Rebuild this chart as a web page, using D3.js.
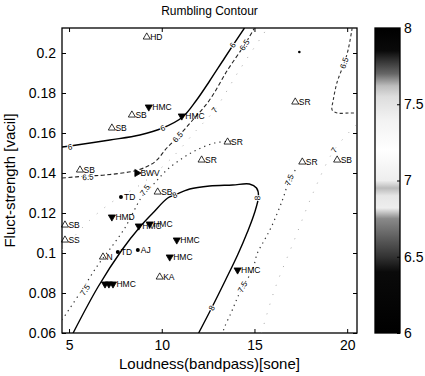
<!DOCTYPE html>
<html><head><meta charset="utf-8">
<script src="https://cdn.jsdelivr.net/npm/d3@7"></script>
<style>
body{margin:0;background:#fff}
svg{display:block}
text{font-family:"Liberation Sans",Arial,Helvetica,sans-serif;fill:#000}
</style>
</head><body>
<svg id="chart" width="425" height="376"></svg>
<script>
// ---------- data ----------
const titleText = "Rumbling Contour";
const xLabelText = "Loudness(bandpass)[sone]";
const yLabelText = "Fluct-strength [vacil]";
const xTicks = [5, 10, 15, 20];
const yTicks = [0.06, 0.08, 0.1, 0.12, 0.14, 0.16, 0.18, 0.2];
const yTickLabels = ["0.06", "0.08", "0.1", "0.12", "0.14", "0.16", "0.18", "0.2"];
const cbTicks = [6, 6.5, 7, 7.5, 8];
const cbTickLabels = ["6", "6.5", "7", "7.5", "8"];

// contour lines [loudness, fluct-strength]
const level6Line = [[4.62,0.153],[5.05,0.1535],[7.2,0.1565],[8.82,0.159],[10.05,0.1625],[11.13,0.168],[11.88,0.1765],[12.58,0.186],[13.39,0.1975],[14.46,0.2125]];
const level65LineLeft = [[4.62,0.1375],[6.02,0.1385],[6.94,0.139],[8.71,0.1415],[9.62,0.1455],[10.27,0.1525],[10.86,0.158],[11.67,0.1665],[12.58,0.1765],[13.55,0.1915],[14.46,0.204],[15.0,0.2125]];
const level7LineLeft = [[4.62,0.1015],[6.13,0.1165],[7.47,0.1265],[8.82,0.134],[10.43,0.1465],[11.88,0.1615],[12.85,0.1715],[14.19,0.1915],[15.7,0.2125]];
const level75LineLeft = [[4.62,0.0665],[5.59,0.08],[6.56,0.094],[7.37,0.104],[8.01,0.1125],[8.44,0.12],[8.92,0.128],[9.62,0.135],[10.27,0.1415],[11.13,0.1475],[11.88,0.1515],[12.85,0.155],[13.92,0.156]];
const level8Line = [[5.22,0.06],[6.56,0.083],[7.85,0.1015],[8.82,0.113],[9.52,0.12],[10.32,0.1275],[10.7,0.129],[11.51,0.132],[12.58,0.1335],[13.82,0.134],[14.73,0.1345],[15.11,0.1325],[15.22,0.1285],[15.0,0.12],[14.62,0.1105],[14.09,0.099],[13.44,0.0865],[12.69,0.0725],[11.99,0.06]];
const level75LineRight = [[17.2,0.1415],[16.88,0.1365],[16.51,0.1265],[15.91,0.113],[15.54,0.1065],[15.16,0.1],[14.89,0.0915],[14.35,0.083],[14.03,0.0765],[13.76,0.0705],[13.39,0.063],[13.28,0.06]];
const level7LineRight = [[20.48,0.164],[19.3,0.1515],[18.23,0.1315],[17.15,0.1065],[16.08,0.0815],[15.38,0.06]];
const level65LineCorner = [[20.27,0.2125],[20.05,0.2015],[19.84,0.195],[19.46,0.1855],[19.25,0.1765],[19.19,0.1715],[19.46,0.17],[20.11,0.17],[20.48,0.17]];

// contour labels: text, line id, position
const contourLabelText = ["6","6","6","6.5","6.5","6.5","8","8","8","7.5","7.5","7.5","7.5","6.5","7","7"];
const contourLabelLine = ["l6","l6","l6","l65L","l65L","l65L","l8","l8","l8","l75L","l75L","l75R","l75R","l65C","l7L","l7R"];
const contourLabelX = [5.05,10.05,13.82,6.02,10.86,14.46,10.7,15.16,12.69,5.86,9.09,16.88,14.35,19.84,12.85,19.3];
const contourLabelY = [0.153,0.1625,0.204,0.138,0.158,0.204,0.129,0.1275,0.0725,0.0815,0.1315,0.1365,0.083,0.195,0.1715,0.1515];

// marker groups: open up-triangles
const upTriNames = ["HD","SB","SB","SB","SB","SB","SS","N","SR","SR","SR","SR","SB","KA"];
const upTriX = [9.19,7.31,8.39,5.59,9.78,4.78,4.78,6.83,13.55,12.15,17.2,17.58,19.46,9.89];
const upTriY = [0.208,0.1625,0.169,0.1415,0.1305,0.114,0.1065,0.098,0.1555,0.1465,0.1755,0.1455,0.1465,0.088];
// filled down-triangles
const downTriNames = ["HMC","HMC","HMD","HMC","HMC","HMC","HMC","HMC","","","HMC"];
const downTriX = [9.3,11.08,7.31,8.76,9.35,10.81,10.43,14.09,6.94,7.15,7.37];
const downTriY = [0.173,0.1685,0.118,0.1135,0.1145,0.1065,0.098,0.0915,0.0845,0.0845,0.0845];
// filled dots
const dotNames = ["TD","TD","AJ",""];
const dotX = [7.8,7.63,8.71,17.42];
const dotY = [0.128,0.1005,0.1015,0.2005];
// filled right-triangles
const rightTriNames = ["BWV"];
const rightTriX = [8.66];
const rightTriY = [0.14];

// colormap stops (value, gray)
const cmapValues = [6.0,6.4,6.5,6.6,6.75,6.82,6.9,6.95,7.0,7.2,7.4,7.55,7.62,7.7,7.8,7.85,8.0];
const cmapGrays  = ["#000","#0a0a0a","#333","#555","#8a8a8a","#eeeeee","#e6e6e6","#bbbbbb","#eeeeee","#ffffff","#f2f2f2","#dddddd","#bdbdbd","#666","#2a2a2a","#0a0a0a","#000"];

// ---------- layout ----------
const svg = d3.select("#chart");
const L = 62, R = 357, T = 28, B = 333;
const x = d3.scaleLinear().domain([4.62, 20.53]).range([L, R]);
const y = d3.scaleLinear().domain([0.06, 0.2125]).range([B, T]);
const cbX0 = 375, cbX1 = 400;
const cbY = d3.scaleLinear().domain([6, 8]).range([B, T]);

const defs = svg.append("defs");
defs.append("clipPath").attr("id","plotclip").append("rect")
  .attr("x",L).attr("y",T).attr("width",R-L).attr("height",B-T);

// title
svg.append("text").attr("x",(L+R)/2).attr("y",15).attr("text-anchor","middle")
  .attr("font-size",12).text(titleText);

// axes
const gx = svg.append("g").attr("transform",`translate(0,${B})`)
  .call(d3.axisBottom(x).tickValues(xTicks).tickSizeInner(-4).tickSizeOuter(0).tickPadding(7).tickFormat(d3.format("d")));
gx.selectAll("text").attr("font-size",14);
const gy = svg.append("g").attr("transform",`translate(${L},0)`)
  .call(d3.axisLeft(y).tickValues(yTicks).tickSizeInner(-4).tickSizeOuter(0).tickPadding(6).tickFormat((d,i)=>yTickLabels[i]));
gy.selectAll("text").attr("font-size",14);
// mirrored ticks
svg.append("g").attr("transform",`translate(0,${T})`)
  .call(d3.axisTop(x).tickValues(xTicks).tickSizeInner(-4).tickSizeOuter(0).tickFormat(""));
svg.append("g").attr("transform",`translate(${R},0)`)
  .call(d3.axisRight(y).tickValues(yTicks).tickSizeInner(-4).tickSizeOuter(0).tickFormat(""));
svg.selectAll(".domain").remove();
svg.selectAll(".tick line").attr("stroke","#000").attr("stroke-width",1);
svg.append("rect").attr("x",L).attr("y",T).attr("width",R-L).attr("height",B-T)
  .attr("fill","none").attr("stroke","#000").attr("stroke-width",1.3);

svg.append("text").attr("x",(L+R)/2).attr("y",369).attr("text-anchor","middle")
  .attr("font-size",15).text(xLabelText);
svg.append("text").attr("transform",`translate(15,${(T+B)/2}) rotate(-90)`)
  .attr("text-anchor","middle").attr("font-size",15).text(yLabelText);

// contour lines
const lines = {
  l6: {pts: level6Line, stroke:"#000", width:1.4, dash:null},
  l8: {pts: level8Line, stroke:"#000", width:1.4, dash:null},
  l65L: {pts: level65LineLeft, stroke:"#222", width:1.1, dash:"4,2.5"},
  l65C: {pts: level65LineCorner, stroke:"#333", width:1.1, dash:"3,2.5"},
  l75L: {pts: level75LineLeft, stroke:"#333", width:1.2, dash:"1.3,4"},
  l75R: {pts: level75LineRight, stroke:"#333", width:1.2, dash:"1.3,4"},
  l7L: {pts: level7LineLeft, stroke:"#aaa", width:1, dash:"1,9"},
  l7R: {pts: level7LineRight, stroke:"#aaa", width:1, dash:"1,9"}
};
const lineGen = d3.line().x(d=>x(d[0])).y(d=>y(d[1])).curve(d3.curveCatmullRom.alpha(0.5));
const gLines = svg.append("g").attr("clip-path","url(#plotclip)");
Object.keys(lines).forEach(k=>{
  const s = lines[k];
  gLines.append("path").attr("d",lineGen(s.pts)).attr("fill","none")
    .attr("stroke",s.stroke).attr("stroke-width",s.width)
    .attr("stroke-dasharray",s.dash);
});

// contour labels (rotated along line)
const gLab = svg.append("g");
contourLabelText.forEach((t,i)=>{
  const pts = lines[contourLabelLine[i]].pts.map(p=>[x(p[0]),y(p[1])]);
  const px = x(contourLabelX[i]), py = y(contourLabelY[i]);
  let best=0, bd=1e9;
  pts.forEach((p,j)=>{const d=(p[0]-px)**2+(p[1]-py)**2; if(d<bd){bd=d;best=j;}});
  const a = pts[Math.max(0,best-1)], b = pts[Math.min(pts.length-1,best+1)];
  let ang = Math.atan2(b[1]-a[1], b[0]-a[0])*180/Math.PI;
  if (ang>90) ang-=180; if (ang<-90) ang+=180;
  gLab.append("text").attr("transform",`translate(${px},${py}) rotate(${ang})`)
    .attr("text-anchor","middle").attr("dy","0.35em").attr("font-size",8)
    .attr("stroke","#fff").attr("stroke-width",2).attr("paint-order","stroke")
    .text(t);
});

// markers
const gM = svg.append("g");
const tri = d3.symbol().type(d3.symbolTriangle).size(22)();
function addMarkers(names, xs, ys, rot, fill){
  names.forEach((n,i)=>{
    const px = x(xs[i]), py = y(ys[i]);
    gM.append("path").attr("d",tri).attr("transform",`translate(${px},${py}) rotate(${rot})`)
      .attr("fill",fill?"#000":"none").attr("stroke","#000").attr("stroke-width",0.8);
    if(n) gM.append("text").attr("x",px+3.5).attr("y",py+3).attr("font-size",8.5).text(n);
  });
}
addMarkers(upTriNames, upTriX, upTriY, 0, false);
addMarkers(downTriNames, downTriX, downTriY, 180, true);
addMarkers(rightTriNames, rightTriX, rightTriY, 90, true);
dotNames.forEach((n,i)=>{
  const px = x(dotX[i]), py = y(dotY[i]);
  gM.append("circle").attr("cx",px).attr("cy",py).attr("r",n?2:1.3).attr("fill","#000");
  if(n) gM.append("text").attr("x",px+3).attr("y",py+3).attr("font-size",8.5).text(n);
});

// colorbar
const grad = defs.append("linearGradient").attr("id","cmap")
  .attr("x1","0").attr("y1","1").attr("x2","0").attr("y2","0");
cmapValues.forEach((v,i)=>{
  grad.append("stop").attr("offset",(v-6)/2).attr("stop-color",cmapGrays[i]);
});
svg.append("rect").attr("x",cbX0).attr("y",T).attr("width",cbX1-cbX0).attr("height",B-T)
  .attr("fill","url(#cmap)").attr("stroke","#000").attr("stroke-width",1.3);
const gcb = svg.append("g").attr("transform",`translate(${cbX1},0)`)
  .call(d3.axisRight(cbY).tickValues(cbTicks).tickSizeInner(-3).tickSizeOuter(0).tickPadding(4).tickFormat((d,i)=>cbTickLabels[i]));
gcb.select(".domain").remove();
gcb.selectAll(".tick line").attr("stroke","#000");
gcb.selectAll("text").attr("font-size",14);
</script>
</body></html>
